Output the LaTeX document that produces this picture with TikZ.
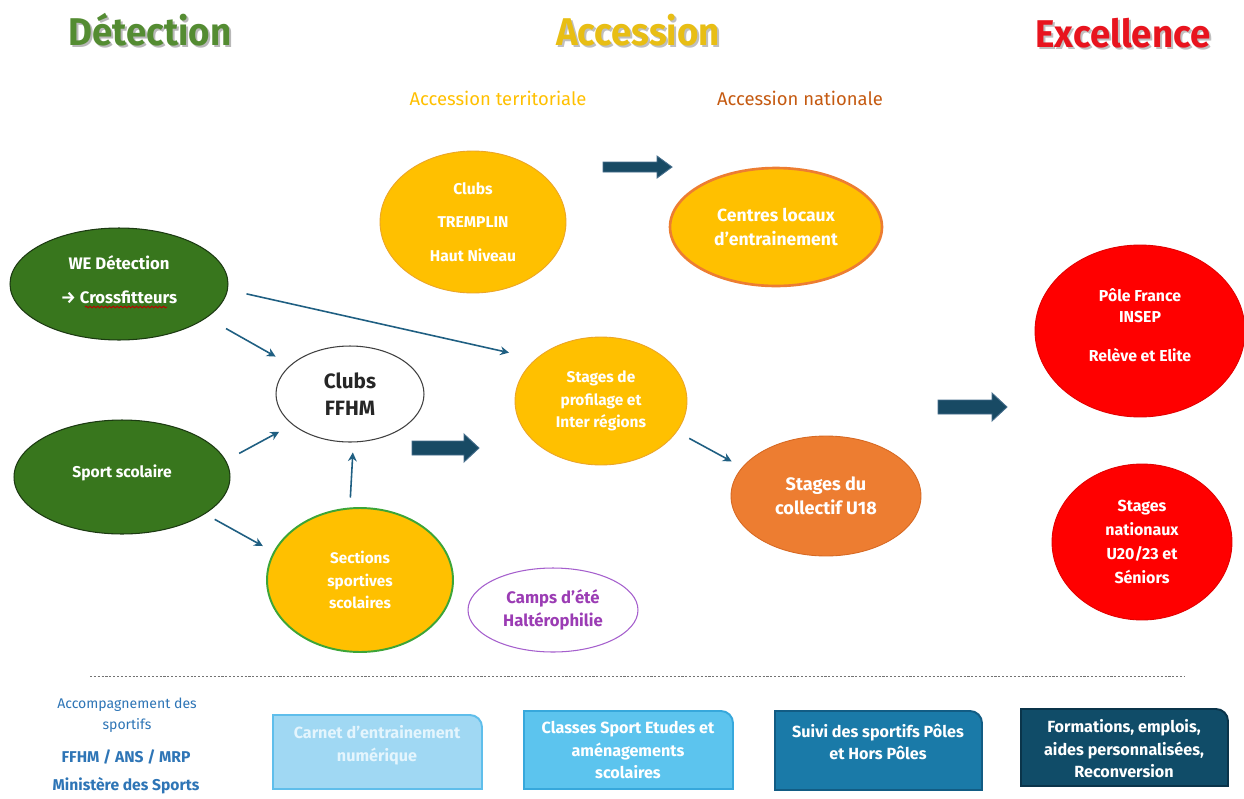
\documentclass[tikz,border=0pt]{standalone}
\usepackage{fontspec}
\setmainfont{Fira Sans}
\newfontfamily\condfont[FakeStretch=0.95]{Fira Sans}
\usetikzlibrary{shapes.geometric,arrows.meta,decorations.pathmorphing,calc}
\definecolor{dgreen}{RGB}{56,118,29}
\definecolor{dgreenline}{RGB}{28,58,18}
\definecolor{gold}{RGB}{255,192,0}
\definecolor{goldline}{RGB}{235,165,40}
\definecolor{orng}{RGB}{237,125,49}
\definecolor{orngline}{RGB}{215,105,35}
\definecolor{rd}{RGB}{255,0,0}
\definecolor{rdline}{RGB}{225,0,0}
\definecolor{purp}{RGB}{155,60,180}
\definecolor{purpline}{RGB}{165,95,205}
\definecolor{sectline}{RGB}{60,165,55}
\definecolor{conn}{RGB}{31,95,130}
\definecolor{blockc}{RGB}{24,74,100}
\definecolor{blockline}{RGB}{70,110,140}
\definecolor{titgreen}{RGB}{84,140,50}
\definecolor{titgold}{RGB}{232,190,20}
\definecolor{titred}{RGB}{232,20,30}
\definecolor{subgold}{RGB}{255,192,0}
\definecolor{subbrown}{RGB}{197,90,17}
\definecolor{blueTxt}{RGB}{46,117,182}
\definecolor{boxA}{RGB}{160,216,243}
\definecolor{boxAl}{RGB}{95,190,235}
\definecolor{boxAt}{RGB}{228,245,253}
\definecolor{boxB}{RGB}{92,196,238}
\definecolor{boxBl}{RGB}{55,168,220}
\definecolor{boxC}{RGB}{26,122,168}
\definecolor{boxCl}{RGB}{18,92,132}
\definecolor{boxD}{RGB}{16,76,104}
\definecolor{boxDl}{RGB}{10,52,74}
\tikzset{
  ell/.style={ellipse, inner sep=0pt, align=center, text=white,
    font=\bfseries\fontsize{8.9}{13}\selectfont},
  greenell/.style={ell, fill=dgreen, draw=dgreenline, line width=0.6pt},
  goldell/.style={ell, fill=gold, draw=goldline, line width=0.5pt},
  redell/.style={ell, fill=rd, draw=rdline, line width=0.5pt},
  connarrow/.style={draw=conn, line width=0.9pt, -{Stealth[length=5pt,width=5pt]}},
  titletext/.style={font=\condfont\bfseries\fontsize{22}{24}\selectfont},
  subtext/.style={font=\fontsize{10.5}{12}\selectfont},
  boxtext/.style={align=center, font=\bfseries\fontsize{9.2}{12.8}\selectfont},
  lefttext/.style={align=center, text=blueTxt},
}
\newcommand\blockarrow[5]{% x1, x2, y, body half, head half
  \fill[blockc, draw=blockline, line width=0.5pt]
    (#1,#3-#4) -- (#2-15,#3-#4) -- (#2-15,#3-#5) -- (#2,#3) -- (#2-15,#3+#5)
    -- (#2-15,#3+#4) -- (#1,#3+#4) -- cycle;}
\newcommand\tabbox[6]{% x1,y1,x2,y2,fill,line
  \filldraw[fill=#5, draw=#6, line width=1.1pt]
    (#1,#4) -- (#1,#2) -- (#3-12,#2) arc[start angle=90,end angle=0,radius=0.24cm]
    -- (#3,#4) -- cycle;}
\begin{document}
\begin{tikzpicture}[x=0.02cm,y=-0.02cm]
\useasboundingbox (0,0) rectangle (1244,798);
\fill[white] (0,0) rectangle (1244,798);

% titles
\node[titletext, text=black!28] at (152,32) {Détection};
\node[titletext, text=titgreen] (tdet) at (150,30) {Détection};
\node[titletext, text=black!25] at (640,32) {Accession};
\node[titletext, text=titgold] (tacc) at (638,30) {Accession};
\node[titletext, text=black!25] at (1125,35) {Excellence};
\node[titletext, text=titred] (texc) at (1123,33) {Excellence};
\node[subtext, text=subgold] (terr) at (498,98) {Accession territoriale};
\node[subtext, text=subbrown] (natl) at (800,98) {Accession nationale};

% ellipses
\node[goldell, minimum width=3.72cm, minimum height=2.84cm] (tremplin) at (473,222)
  {Clubs\\[6pt]TREMPLIN\\[6pt]Haut Niveau};
\node[goldell, draw=orng, line width=1.5pt, minimum width=4.24cm, minimum height=2.36cm,
  font=\bfseries\fontsize{10}{13.5}\selectfont] (centres) at (776,227)
  {Centres locaux\\d’entrainement};
\node[greenell, minimum width=4.36cm, minimum height=2.24cm,
  font=\bfseries\fontsize{9.5}{13}\selectfont] (we) at (119,284)
  {WE Détection\\[6pt]→ Crossfitteurs\\[-8pt]\mbox{}};
\node[greenell, minimum width=4.32cm, minimum height=2.28cm] (sport) at (122,477)
  {Sport scolaire\\[-6pt]\mbox{}};
\node[ell, fill=white, draw=black!75, line width=0.6pt, text=black!85,
  font=\bfseries\fontsize{11.8}{15}\selectfont,
  minimum width=2.96cm, minimum height=1.92cm] (ffhm) at (350,394) {Clubs\\FFHM};
\node[goldell, minimum width=3.44cm, minimum height=2.56cm,
  font=\bfseries\fontsize{8.8}{12.8}\selectfont] (profil) at (601,401)
  {Stages de\\profilage et\\Inter régions};
\node[goldell, draw=sectline, line width=1.1pt, minimum width=3.72cm, minimum height=2.88cm,
  font=\bfseries\fontsize{8.7}{13}\selectfont]
  (sections) at (360,580) {Sections\\sportives\\scolaires};
\node[ell, fill=white, draw=purpline, line width=0.6pt, text=purp,
  font=\bfseries\fontsize{9.5}{13}\selectfont,
  minimum width=3.40cm, minimum height=1.68cm] (camps) at (553,610)
  {Camps d’été\\Haltérophilie};
\node[ell, fill=orng, draw=orngline, line width=0.5pt,
  font=\bfseries\fontsize{10.3}{13.5}\selectfont,
  minimum width=3.80cm, minimum height=2.40cm] (u18) at (826,496)
  {Stages du\\collectif U18};
\node[redell, minimum width=4.20cm, minimum height=3.44cm,
  font=\bfseries\fontsize{9}{12}\selectfont] (pole) at (1140,331)
  {Pôle France\\INSEP\\[10.5pt]Relève et Elite\\[-5pt]\mbox{}};
\node[redell, minimum width=3.60cm, minimum height=3.12cm,
  font=\bfseries\fontsize{9.1}{13.5}\selectfont] (nat) at (1142,542)
  {Stages\\nationaux\\U20/23 et\\Séniors};

% spell-check underline
\draw[red!75!black, line width=0.5pt, decorate,
  decoration={snake, amplitude=0.5pt, segment length=2.2pt}] (85,307) -- (167,307);

% thin connectors
\draw[connarrow, shorten <=0.44cm, shorten >=0.34cm] (we.-21) -- (ffhm.154);
\draw[connarrow, shorten <=0.38cm, shorten >=0.55cm] (we.-3) -- (profil.147);
\draw[connarrow, shorten <=0.30cm, shorten >=0.30cm] (sport.9) -- (ffhm.208);
\draw[connarrow, shorten <=0.20cm, shorten >=0.20cm] (sections.98) -- (ffhm.-86);
\draw[connarrow, shorten <=0.22cm, shorten >=0.24cm] (sport.-24) -- (sections.162);
\draw[connarrow, shorten <=0.28cm, shorten >=0.24cm] (profil.-22) -- (u18.161);

% block arrows
\blockarrow{603}{672}{167}{5}{11}
\blockarrow{412}{479}{448}{7}{14}
\blockarrow{938}{1007}{407}{7}{14}

% dashed separator
\draw[black!55, line width=0.5pt, dash pattern=on 1.2pt off 1pt] (90,676) -- (1185,676);

% bottom-left text
\node[lefttext, font=\fontsize{8}{12}\selectfont] (acc) at (127,715)
  {Accompagnement des\\sportifs};
\node[lefttext, font=\bfseries\fontsize{8.9}{12}\selectfont] (ffhmans) at (126,757)
  {FFHM / ANS / MRP};
\node[lefttext, font=\bfseries\fontsize{8.9}{12}\selectfont] (mins) at (126,786)
  {Ministère des Sports};

% bottom boxes
\tabbox{273}{715}{482}{789}{boxA}{boxAl}
\node[boxtext, text=boxAt] (carnet) at (377,745) {Carnet d’entrainement\\numérique};
\tabbox{524}{711}{733}{789}{boxB}{boxBl}
\node[boxtext, text=white] (classes) at (628,750) {Classes Sport Etudes et\\aménagements\\scolaires};
\tabbox{775}{711}{982}{790}{boxC}{boxCl}
\node[boxtext, text=white] (suivi) at (878,742) {Suivi des sportifs Pôles\\et Hors Pôles};
\tabbox{1021}{709}{1228}{786}{boxD}{boxDl}
\node[boxtext, text=white] (form) at (1124,749) {Formations, emplois,\\aides personnalisées,\\Reconversion};
\end{tikzpicture}
\end{document}
